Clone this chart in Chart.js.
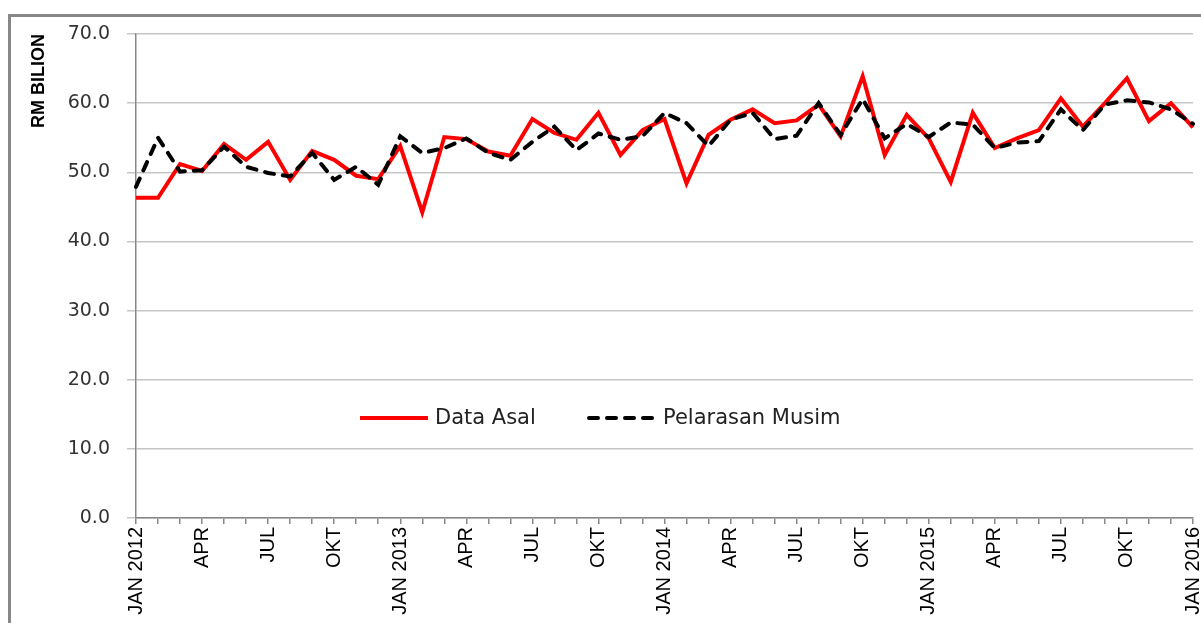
<!DOCTYPE html>
<html>
<head>
<meta charset="utf-8">
<script src="https://cdn.jsdelivr.net/npm/chart.js@4.4.1/dist/chart.umd.min.js"></script>
<style>
  html, body { margin: 0; padding: 0; background: #fff; overflow: hidden; }
  #wrap { position: relative; width: 1201px; height: 623px; overflow: hidden; }
  #frame { position: absolute; left: 8px; top: 14px; width: 1400px; height: 800px; border: 3px solid #878787; }
  #chart { position: absolute; left: 0; top: 0; }
</style>
</head>
<body>
<div id="wrap">
  <div id="frame"></div>
  <canvas id="chart" width="1201" height="623"></canvas>
</div>
<script>
// monthly, Jan 2012 - Jan 2016
const months = [
  'JAN 2012', 'FEB 2012', 'MAC 2012', 'APR 2012', 'MEI 2012', 'JUN 2012', 'JUL 2012', 'OGO 2012', 'SEP 2012', 'OKT 2012', 'NOV 2012', 'DIS 2012',
  'JAN 2013', 'FEB 2013', 'MAC 2013', 'APR 2013', 'MEI 2013', 'JUN 2013', 'JUL 2013', 'OGO 2013', 'SEP 2013', 'OKT 2013', 'NOV 2013', 'DIS 2013',
  'JAN 2014', 'FEB 2014', 'MAC 2014', 'APR 2014', 'MEI 2014', 'JUN 2014', 'JUL 2014', 'OGO 2014', 'SEP 2014', 'OKT 2014', 'NOV 2014', 'DIS 2014',
  'JAN 2015', 'FEB 2015', 'MAC 2015', 'APR 2015', 'MEI 2015', 'JUN 2015', 'JUL 2015', 'OGO 2015', 'SEP 2015', 'OKT 2015', 'NOV 2015', 'DIS 2015',
  'JAN 2016'
];

// only quarters get a label on the axis
const tickLabels = [
  'JAN 2012', '', '', 'APR', '', '', 'JUL', '', '', 'OKT', '', '',
  'JAN 2013', '', '', 'APR', '', '', 'JUL', '', '', 'OKT', '', '',
  'JAN 2014', '', '', 'APR', '', '', 'JUL', '', '', 'OKT', '', '',
  'JAN 2015', '', '', 'APR', '', '', 'JUL', '', '', 'OKT', '', '',
  'JAN 2016'
];

const dataAsal = [
  46.3, 46.3, 51.2, 50.2, 54.1, 51.8, 54.4, 48.9, 53.1, 51.8, 49.5, 49.0,
  53.8, 44.2, 55.1, 54.8, 53.0, 52.4, 57.7, 55.7, 54.7, 58.6, 52.5, 56.1,
  57.7, 48.4, 55.4, 57.6, 59.1, 57.1, 57.5, 59.8, 55.2, 63.9, 52.5, 58.3,
  54.9, 48.6, 58.6, 53.5, 54.9, 56.1, 60.7, 56.6, 60.0, 63.6, 57.4, 60.0,
  56.5
];

const pelarasanMusim = [
  47.9, 55.0, 50.1, 50.3, 53.7, 50.8, 49.9, 49.4, 52.8, 48.9, 50.8, 48.2,
  55.2, 52.8, 53.5, 54.9, 52.8, 51.8, 54.4, 56.6, 53.2, 55.6, 54.7, 55.2,
  58.6, 57.1, 53.8, 57.6, 58.6, 54.8, 55.3, 60.0, 55.4, 60.6, 54.9, 57.0,
  55.1, 57.2, 56.9, 53.5, 54.3, 54.5, 59.1, 56.1, 59.8, 60.4, 60.1, 59.1,
  57.0
];

const yTicks = [0, 10, 20, 30, 40, 50, 60, 70];

// legend drawn inside the plot area, like the original
const insideLegend = {
  id: 'insideLegend',
  afterDatasetsDraw(chart) {
    const { ctx, chartArea } = chart;
    const y = chartArea.top + 384;
    const x0 = chartArea.left + 224;
    ctx.save();
    ctx.font = '21px "DejaVu Sans"';
    ctx.textBaseline = 'middle';
    ctx.fillStyle = '#222';

    ctx.lineWidth = 4;
    ctx.strokeStyle = '#ff0000';
    ctx.beginPath();
    ctx.moveTo(x0, y);
    ctx.lineTo(x0 + 68, y);
    ctx.stroke();
    ctx.fillText('Data Asal', x0 + 75, y + 1);

    ctx.strokeStyle = '#000';
    ctx.lineCap = 'round';
    ctx.setLineDash([9, 9]);
    ctx.beginPath();
    ctx.moveTo(x0 + 229, y);
    ctx.lineTo(x0 + 295, y);
    ctx.stroke();
    ctx.setLineDash([]);
    ctx.fillText('Pelarasan Musim', x0 + 303, y + 1);
    ctx.restore();
  },
};

new Chart(document.getElementById('chart'), {
  type: 'line',
  data: {
    labels: months,
    datasets: [
      {
        label: 'Pelarasan Musim',
        data: pelarasanMusim,
        borderColor: '#000',
        borderWidth: 4,
        borderDash: [9, 9],
        borderCapStyle: 'round',
        pointRadius: 0,
        tension: 0,
        order: 0,
      },
      {
        label: 'Data Asal',
        data: dataAsal,
        borderColor: '#ff0000',
        borderWidth: 4,
        pointRadius: 0,
        tension: 0,
        order: 1,
      },
    ],
  },
  options: {
    responsive: false,
    animation: false,
    events: [],
    layout: { padding: { top: 34, right: 8, bottom: 0, left: 0 } },
    plugins: {
      legend: { display: false },
      tooltip: { enabled: false },
    },
    scales: {
      x: {
        offset: false,
        border: { color: '#878787', width: 1.5 },
        grid: { display: true, drawOnChartArea: false, tickLength: 6, color: '#878787', lineWidth: 1.5 },
        ticks: {
          autoSkip: false,
          minRotation: 90,
          maxRotation: 90,
          padding: 3,
          color: '#000',
          font: { family: '"Liberation Sans", Arial, sans-serif', size: 20 },
          callback: (value, index) => tickLabels[index],
        },
        afterFit: (scale) => {
          scale.height = 105;
          scale.paddingRight = 0;
          scale.paddingLeft = 0;
        },
      },
      y: {
        min: 0,
        max: 70,
        afterBuildTicks: (scale) => {
          scale.ticks = yTicks.map((v) => ({ value: v }));
        },
        border: { color: '#878787', width: 1.5 },
        grid: { color: '#c6c6c6', lineWidth: 1.5, tickLength: 9 },
        ticks: {
          padding: 17,
          color: '#333',
          font: { family: '"DejaVu Sans", Verdana, sans-serif', size: 19 },
          callback: (value) => value.toFixed(1),
        },
        title: {
          display: true,
          text: 'RM BILION',
          align: 'end',
          color: '#000',
          font: { family: '"Liberation Sans", Arial, sans-serif', size: 18, weight: 'bold' },
          padding: { top: 28, bottom: 0 },
        },
        afterFit: (scale) => {
          scale.width = 136;
        },
      },
    },
  },
  plugins: [insideLegend],
});
</script>
</body>
</html>
